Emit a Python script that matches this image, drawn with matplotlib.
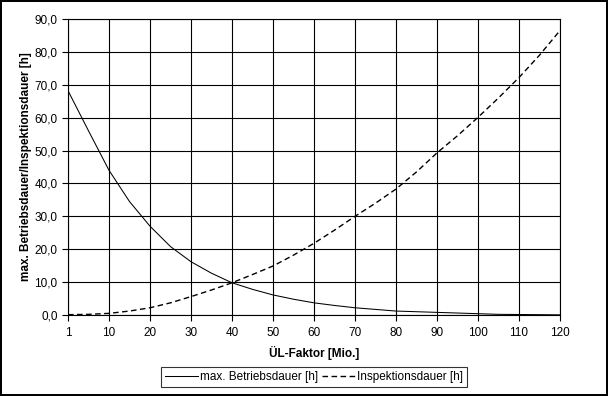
import matplotlib
matplotlib.use('Agg')
import matplotlib.pyplot as plt
from matplotlib.ticker import FuncFormatter

plt.rcParams['font.family'] = ['Liberation Sans', 'DejaVu Sans']

# x positions along the axis (first point is labelled "1")
x_pos = [0, 5, 10, 15, 20, 25, 30, 35, 40, 45, 50, 55, 60, 65, 70, 75,
         80, 85, 90, 95, 100, 105, 110, 115, 120]
x_tick_pos = [0, 10, 20, 30, 40, 50, 60, 70, 80, 90, 100, 110, 120]
x_tick_labels = ['1', '10', '20', '30', '40', '50', '60', '70', '80', '90',
                 '100', '110', '120']

betriebsdauer = [68.2, 56.0, 44.0, 34.5, 27.0, 20.8, 16.2, 12.7, 9.8, 7.8,
                 6.1, 4.8, 3.7, 2.9, 2.2, 1.7, 1.2, 1.0, 0.8, 0.6, 0.4, 0.2,
                 0.15, 0.1, 0.05]
inspektionsdauer = [0.1, 0.2, 0.5, 1.2, 2.2, 3.7, 5.6, 7.6, 9.8, 12.3, 14.9,
                    18.2, 21.8, 25.8, 30.0, 34.0, 38.3, 43.5, 49.3, 54.5,
                    60.1, 66.0, 72.2, 79.0, 86.5]

fig = plt.figure(figsize=(6.08, 3.96), dpi=100)
fig.patch.set_edgecolor('black')
fig.patch.set_linewidth(1.5)

# plot area in pixels: left 68, right 560, top 19, bottom 315
ax = fig.add_axes([68 / 608, 1 - 315 / 396, (560 - 68) / 608, (315 - 19) / 396])

ax.plot(x_pos, betriebsdauer, color='black', linewidth=0.75,
        label='max. Betriebsdauer [h]')
ax.plot(x_pos, inspektionsdauer, color='black', linewidth=1.0,
        dashes=(4, 2.5), label='Inspektionsdauer [h]')

ax.set_xlim(0, 120)
ax.set_ylim(0, 90)
ax.set_xticks(x_tick_pos)
ax.set_xticklabels(x_tick_labels)
ax.set_yticks(range(0, 91, 10))
ax.yaxis.set_major_formatter(FuncFormatter(lambda v, p: f'{v:.1f}'.replace('.', ',')))
ax.grid(True, color='black', linewidth=0.8)
ax.set_axisbelow(True)
for s in ax.spines.values():
    s.set_linewidth(0.8)
ax.tick_params(axis='both', labelsize=8.5, length=4, width=0.8, color='black')
ax.tick_params(axis='x', pad=5)

ax.set_xlabel('ÜL-Faktor [Mio.]', fontsize=8.5, fontweight='bold', labelpad=5)
ax.set_ylabel('max. Betriebsdauer/Inspektionsdauer [h]', fontsize=8.5,
              fontweight='bold', labelpad=2)

leg = fig.legend(loc='center', bbox_to_anchor=(314 / 608, 1 - 377 / 396),
                 ncol=2, fontsize=8.5, frameon=True, fancybox=False,
                 edgecolor='black', handlelength=2.8, handletextpad=0.2,
                 columnspacing=0.3, borderpad=0.35, borderaxespad=0)
leg.get_frame().set_linewidth(0.8)

fig.savefig('out.png', dpi=100, edgecolor=fig.get_edgecolor())
